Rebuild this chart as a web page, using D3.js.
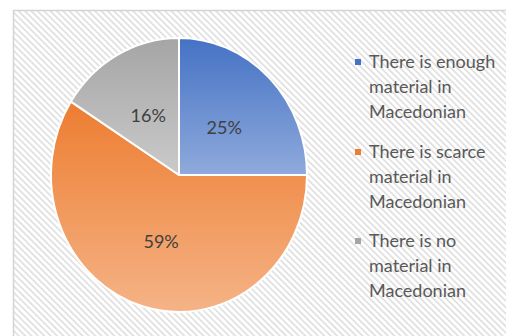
<!DOCTYPE html>
<html>
<head>
<meta charset="utf-8">
<script src="https://cdn.jsdelivr.net/npm/d3@7"></script>
<style>
  html, body { margin: 0; padding: 0; background: #ffffff; }
  svg { display: block; }
</style>
</head>
<body>
<svg id="chart" width="506" height="336"></svg>
<script>
// Survey answers about available teaching material
const categories = ["There is enough material in Macedonian",
                    "There is scarce material in Macedonian",
                    "There is no material in Macedonian"];
const legendLines = [["There is enough", "material in", "Macedonian"],
                     ["There is scarce", "material in", "Macedonian"],
                     ["There is no", "material in", "Macedonian"]];
const values = [25, 59, 16];
const topColors = ["#4472c4", "#ed7d31", "#a5a5a5"];
const bottomColors = ["#8faadc", "#f5b386", "#cacaca"];

const svg = d3.select("#chart");
const defs = svg.append("defs");

// diagonal hatch for the chart area
const hatch = defs.append("pattern")
  .attr("id", "hatch")
  .attr("patternUnits", "userSpaceOnUse")
  .attr("width", 4.5).attr("height", 4.5)
  .attr("patternTransform", "rotate(-45)");
hatch.append("rect").attr("width", 4.5).attr("height", 4.5).attr("fill", "#ffffff");
hatch.append("rect").attr("width", 1.6).attr("height", 4.5).attr("fill", "#dedede");

// vertical gradient per slice
categories.forEach((c, i) => {
  const g = defs.append("linearGradient")
    .attr("id", "grad" + i)
    .attr("x1", 0).attr("y1", 0).attr("x2", 0).attr("y2", 1);
  g.append("stop").attr("offset", "0%").attr("stop-color", topColors[i]);
  g.append("stop").attr("offset", "100%").attr("stop-color", bottomColors[i]);
});

// chart frame
svg.append("rect")
  .attr("x", 13.5).attr("y", 10.5)
  .attr("width", 520).attr("height", 340)
  .attr("fill", "url(#hatch)")
  .attr("stroke", "#d4d4d4").attr("stroke-width", 1.5);

// pie
const cx = 179, cy = 175, rx = 128, ry = 137;
const pie = d3.pie().sort(null).value(d => d)(values);
const arc = d3.arc().innerRadius(0).outerRadius(rx);

const pieG = svg.append("g")
  .attr("transform", `translate(${cx},${cy}) scale(1,${ry / rx})`);

pieG.selectAll("path.slice")
  .data(pie)
  .join("path")
  .attr("class", "slice")
  .attr("d", arc)
  .attr("fill", (d, i) => `url(#grad${i})`)
  .attr("stroke", "#ffffff")
  .attr("stroke-width", 2)
  .attr("stroke-linejoin", "round")
  .attr("vector-effect", "non-scaling-stroke");

// percentage labels at half radius
svg.selectAll("text.pct")
  .data(pie)
  .join("text")
  .attr("class", "pct")
  .attr("x", d => cx + arc.centroid(d)[0])
  .attr("y", d => cy + arc.centroid(d)[1] * ry / rx)
  .attr("text-anchor", "middle")
  .attr("dominant-baseline", "central")
  .attr("font-family", "Lato, 'Open Sans', sans-serif")
  .attr("font-size", 18)
  .attr("fill", "#404040")
  .text(d => d.data + "%");

// legend
const legend = svg.append("g").attr("transform", "translate(355,0)");
const groupTop = [68, 158, 247];
const lineGap = 25;
legendLines.forEach((lines, i) => {
  legend.append("rect")
    .attr("x", 0).attr("y", groupTop[i] - 9)
    .attr("width", 6).attr("height", 6)
    .attr("fill", topColors[i]);
  const t = legend.append("text")
    .attr("x", 14).attr("y", groupTop[i])
    .attr("font-family", "Lato, 'Open Sans', sans-serif")
    .attr("font-size", 18)
    .attr("fill", "#595959");
  lines.forEach((ln, k) => {
    t.append("tspan").attr("x", 14).attr("y", groupTop[i] + k * lineGap).text(ln);
  });
});
</script>
</body>
</html>
